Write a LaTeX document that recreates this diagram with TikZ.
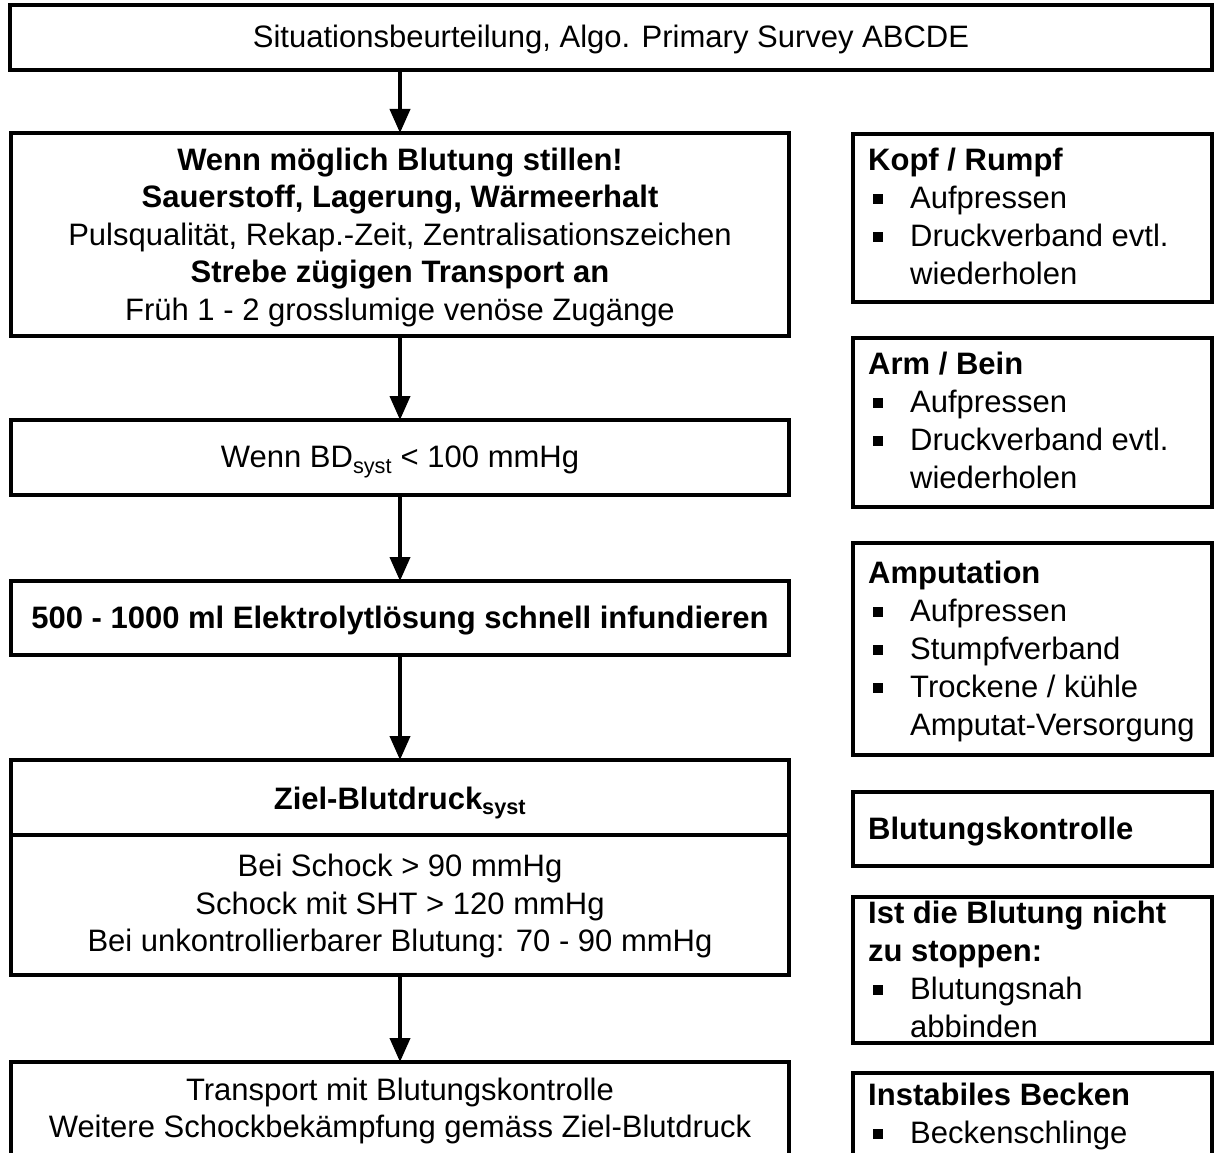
\documentclass[tikz,border=0pt]{standalone}
\usepackage{fontspec}
\setmainfont{Liberation Sans}
\usetikzlibrary{arrows.meta}
\newcommand\sqbul{\makebox[42pt][l]{\hspace{4.5pt}\rule[4.5pt]{10pt}{10pt}}}
\newcommand\sqind{\hspace*{42pt}}
\begin{document}
\begin{tikzpicture}[x=1pt,y=-1pt,
  box/.style={draw,line width=4pt,rectangle,inner sep=0pt,outer sep=0pt},
  txt/.style={inner sep=0pt,font=\fontsize{31}{37.5}\selectfont},
  rtxt/.style={inner sep=0pt,anchor=base west,font=\fontsize{31}{38}\selectfont},
  arr/.style={line width=4pt,-{Triangle[length=24pt,width=20pt]}}]
\useasboundingbox (0,0) rectangle (1215,1153);
\clip (0,0) rectangle (1215,1153);
% left column
\node[box,minimum width=1202pt,minimum height=65pt] (top) at (611,37.5) {};
\node[txt] (tt) at (611,39.5) {Situationsbeurteilung, Algo. Primary Survey ABCDE};
\node[box,minimum width=778pt,minimum height=203pt] (b2) at (400,234.5) {};
\node[txt,align=center] (t2) at (400,237)
  {\textbf{Wenn möglich Blutung stillen!}\\
   \textbf{Sauerstoff, Lagerung, Wärmeerhalt}\\
   Pulsqualität, Rekap.-Zeit, Zentralisationszeichen\\
   \textbf{Strebe zügigen Transport an}\\
   Früh 1 - 2 grosslumige venöse Zugänge};
\node[box,minimum width=778pt,minimum height=75pt] (b3) at (400,457.5) {};
\node[txt] (t3) at (400,462) {Wenn BD\textsubscript{syst} < 100 mmHg};
\node[box,minimum width=778pt,minimum height=74pt] (b4) at (400,618) {};
\node[txt] (t4) at (400,620.5) {\textbf{500 - 1000 ml Elektrolytlösung schnell infundieren}};
\node[box,minimum width=778pt,minimum height=215pt] (b5) at (400,867.5) {};
\coordinate (d1) at (11,835);
\coordinate (d2) at (789,835);
\draw[line width=4pt] (d1) -- (d2);
\node[txt] (t5a) at (400,803) {\textbf{Ziel-Blutdruck\textsubscript{syst}}};
\node[txt,align=center] (t5b) at (400,906)
  {Bei Schock > 90 mmHg\\
   Schock mit SHT > 120 mmHg\\
   Bei unkontrollierbarer Blutung: 70 - 90 mmHg};
\node[box,minimum width=778pt,minimum height=138pt] (b6) at (400,1131) {};
\node[txt,align=center] (t6) at (400,1111)
  {Transport mit Blutungskontrolle\\
   Weitere Schockbekämpfung gemäss Ziel-Blutdruck};
% arrows
\draw[arr] (b2.north |- top.south) -- (b2.north);
\draw[arr] (b2.south) -- (b3.north);
\draw[arr] (b3.south) -- (b4.north);
\draw[arr] (b4.south) -- (b5.north);
\draw[arr] (b5.south) -- (b6.north);
% right column
\node[box,minimum width=359pt,minimum height=168pt] (r1) at (1032.5,218) {};
\node[rtxt] (r1t) at (868,170) {\begin{tabular}[t]{@{}l@{}}
  \textbf{Kopf / Rumpf}\\
  \sqbul Aufpressen\\
  \sqbul Druckverband evtl.\\
  \sqind wiederholen\end{tabular}};
\node[box,minimum width=359pt,minimum height=169pt] (r2) at (1032.5,422.5) {};
\node[rtxt] (r2t) at (868,374) {\begin{tabular}[t]{@{}l@{}}
  \textbf{Arm / Bein}\\
  \sqbul Aufpressen\\
  \sqbul Druckverband evtl.\\
  \sqind wiederholen\end{tabular}};
\node[box,minimum width=359pt,minimum height=212pt] (r3) at (1032.5,649) {};
\node[rtxt] (r3t) at (868,583) {\begin{tabular}[t]{@{}l@{}}
  \textbf{Amputation}\\
  \sqbul Aufpressen\\
  \sqbul Stumpfverband\\
  \sqbul Trockene / kühle\\
  \sqind Amputat-Versorgung\end{tabular}};
\node[box,minimum width=359pt,minimum height=74pt] (r4) at (1032.5,829) {};
\node[rtxt] (r4t) at (868,839) {\textbf{Blutungskontrolle}};
\node[box,minimum width=359pt,minimum height=146pt] (r5) at (1032.5,970) {};
\node[rtxt] (r5t) at (868,923) {\begin{tabular}[t]{@{}l@{}}
  \textbf{Ist die Blutung nicht}\\
  \textbf{zu stoppen:}\\
  \sqbul Blutungsnah\\
  \sqind abbinden\end{tabular}};
\node[box,minimum width=359pt,minimum height=127pt] (r6) at (1032.5,1136.5) {};
\node[rtxt] (r6t) at (868,1105) {\begin{tabular}[t]{@{}l@{}}
  \textbf{Instabiles Becken}\\
  \sqbul Beckenschlinge\end{tabular}};
\end{tikzpicture}
\end{document}
